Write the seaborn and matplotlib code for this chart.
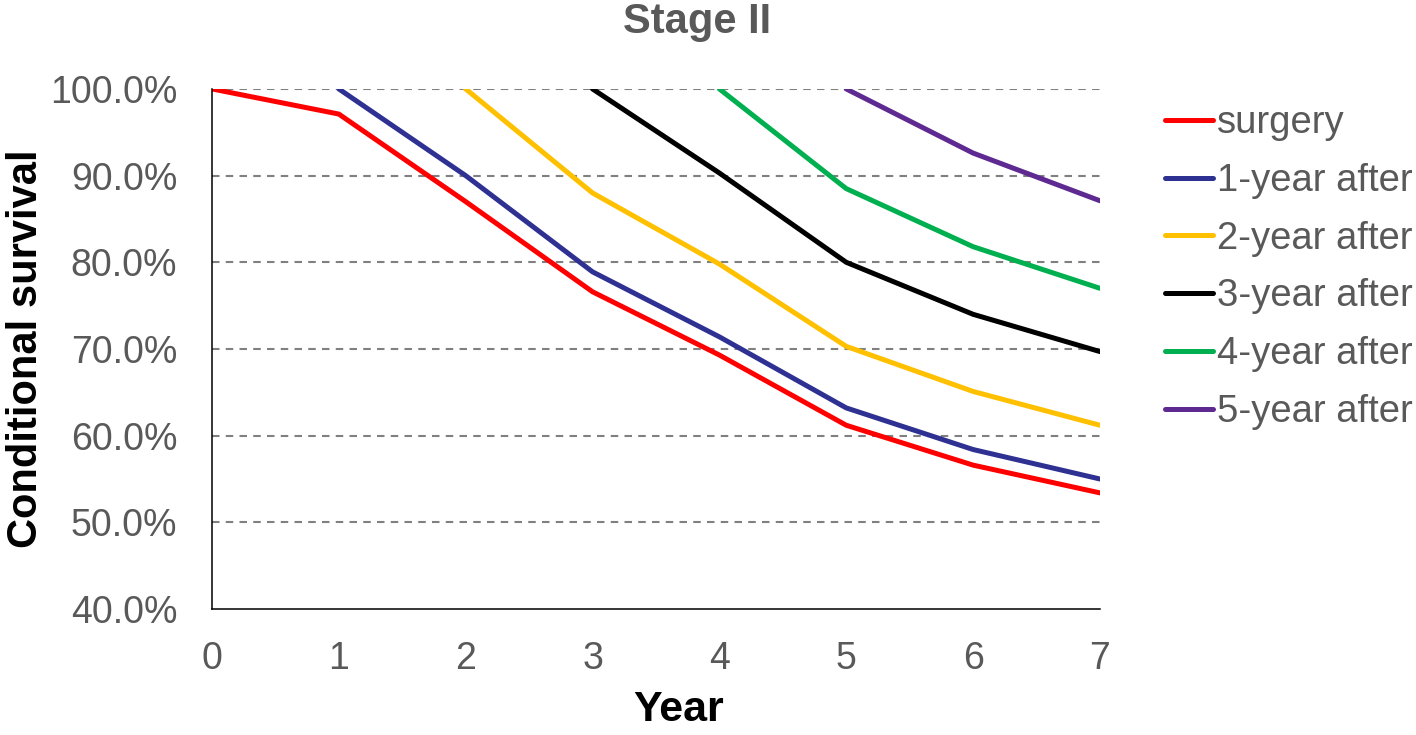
import matplotlib
matplotlib.use("Agg")
import matplotlib.pyplot as plt
from matplotlib.ticker import PercentFormatter
import pandas as pd
import seaborn as sns

# conditional survival, one list per starting year
years = [0, 1, 2, 3, 4, 5, 6, 7]
surgery = [100.0, 97.1, 87.0, 76.6, 69.3, 61.2, 56.6, 53.4]
after_1 = [100.0, 90.0, 78.9, 71.4, 63.2, 58.4, 55.0]
after_2 = [100.0, 88.0, 79.8, 70.3, 65.1, 61.2]
after_3 = [100.0, 90.3, 80.0, 74.0, 69.7]
after_4 = [100.0, 88.5, 81.8, 77.0]
after_5 = [100.0, 92.6, 87.1]

names = ["surgery", "1-year after", "2-year after", "3-year after", "4-year after", "5-year after"]
series = [surgery, after_1, after_2, after_3, after_4, after_5]
colors = ["#FF0000", "#2E3192", "#FFC000", "#000000", "#00B050", "#5E2A92"]

rows = []
for k, (nm, vals) in enumerate(zip(names, series)):
    for yr, v in zip(years[k:], vals):
        rows.append({"Year": yr, "Survival": v, "group": nm})
df = pd.DataFrame(rows)

sns.set_style("white")
plt.rcParams['font.family'] = ['Liberation Sans', 'DejaVu Sans']
grey = "#595959"

fig = plt.figure(figsize=(14.16, 7.35), dpi=100)
ax = fig.add_axes([0.1497, 0.1714, 0.6271, 0.7076])

sns.lineplot(data=df, x="Year", y="Survival", hue="group", hue_order=names,
             palette=dict(zip(names, colors)), linewidth=3.6, ax=ax, legend=False)

ax.set_xlim(0, 7)
ax.set_ylim(40, 100)
ax.set_xticks(years)
ax.set_yticks([40, 50, 60, 70, 80, 90, 100])
ax.yaxis.set_major_formatter(PercentFormatter(decimals=1))
for yv in [50, 60, 70, 80, 90, 100]:
    ax.axhline(yv, color="#808080", lw=1.5, ls=(0, (3.6, 3)), zorder=0)

ax.tick_params(axis="both", length=0, labelsize=27, labelcolor=grey)
ax.tick_params(axis="y", pad=25)
ax.tick_params(axis="x", pad=23)
for s in ["top", "right"]:
    ax.spines[s].set_visible(False)
ax.spines["left"].set_color("black")
ax.spines["bottom"].set_color("black")
ax.spines["left"].set_linewidth(1.1)
ax.spines["bottom"].set_linewidth(1.1)

fig.text(0.4922, 0.955, "Stage II", fontsize=30, fontweight="bold", color=grey,
         ha="center", va="baseline")
ax.set_xlabel("Year", fontsize=31, fontweight="bold", color="black", labelpad=11)
ax.xaxis.set_label_coords(0.526, -0.155)
ax.xaxis.label.set_va("top")
ax.set_ylabel("Conditional survival", fontsize=30, fontweight="bold", color="black", labelpad=3)

handles = [plt.Line2D([], [], color=c, lw=3.6) for c in colors]
leg = fig.legend(handles, names, loc="upper left", bbox_to_anchor=(0.8227, 0.857),
                 frameon=False, fontsize=27.5, handlelength=1.25, handletextpad=0.12,
                 labelspacing=0.57, borderpad=0, borderaxespad=0)
for t in leg.get_texts():
    t.set_color(grey)

fig.savefig("out.png", dpi=100)
